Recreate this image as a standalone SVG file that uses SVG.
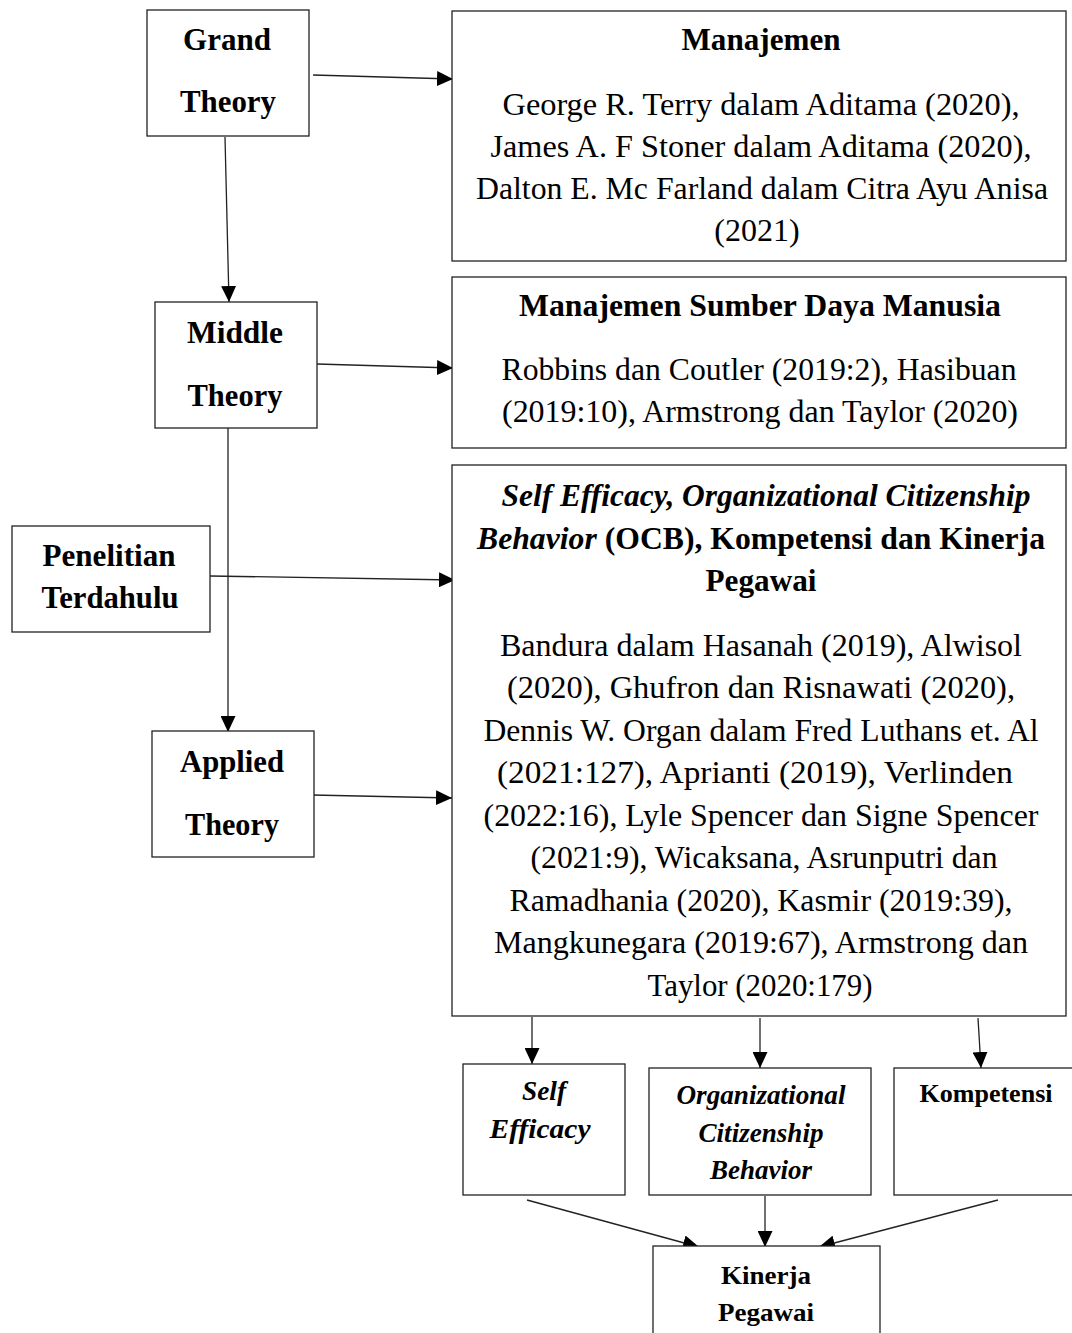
<svg xmlns="http://www.w3.org/2000/svg" width="1072" height="1333" viewBox="0 0 1072 1333">
<style>
.box{fill:#fff;stroke:#222;stroke-width:1.3}
.t{font-family:"Liberation Serif","Times New Roman",serif;fill:#000;text-anchor:middle}
.b{font-weight:bold}
.i{font-style:italic}
.big{font-size:32px}
.sm{font-size:27px}
.con{stroke:#222;stroke-width:1.3;fill:none;marker-end:url(#ah)}
</style>
<defs>
<marker id="ah" markerUnits="userSpaceOnUse" markerWidth="17" markerHeight="15" refX="16" refY="7.5" orient="auto">
<path d="M0,0 L16,7.5 L0,15 z" fill="#000"/>
</marker>
</defs>
<rect width="1072" height="1333" fill="#fff"/>
<g id="connectors">
<line class="con" x1="313" y1="75" x2="453" y2="79"/>
<line class="con" x1="225" y1="137" x2="229" y2="302"/>
<line class="con" x1="317" y1="364" x2="453" y2="368"/>
<line class="con" x1="228" y1="428" x2="228" y2="732"/>
<line class="con" x1="210" y1="576" x2="455" y2="580"/>
<line class="con" x1="312" y1="795" x2="452" y2="798"/>
<line class="con" x1="532" y1="1017" x2="532" y2="1064"/>
<line class="con" x1="760" y1="1018" x2="760" y2="1068"/>
<line class="con" x1="978" y1="1018" x2="981" y2="1068"/>
<line class="con" x1="527" y1="1200" x2="699" y2="1247"/>
<line class="con" x1="765" y1="1196" x2="765" y2="1247"/>
<line class="con" x1="998" y1="1200" x2="819" y2="1247"/>
</g>
<g id="grand">
<rect class="box" x="147" y="10" width="162" height="126"/>
<text class="t b big" x="227" y="50" textLength="88" lengthAdjust="spacingAndGlyphs">Grand</text>
<text class="t b big" x="228" y="112" textLength="96" lengthAdjust="spacingAndGlyphs">Theory</text>
</g>
<g id="manajemen">
<rect class="box" x="452" y="11" width="614" height="250"/>
<text class="t b big" x="761" y="50" textLength="159" lengthAdjust="spacingAndGlyphs">Manajemen</text>
<text class="t big" x="761" y="115" textLength="517" lengthAdjust="spacingAndGlyphs">George R. Terry dalam Aditama (2020),</text>
<text class="t big" x="761" y="157" textLength="541" lengthAdjust="spacingAndGlyphs">James A. F Stoner dalam Aditama (2020),</text>
<text class="t big" x="762" y="199" textLength="572" lengthAdjust="spacingAndGlyphs">Dalton E. Mc Farland dalam Citra Ayu Anisa</text>
<text class="t big" x="757" y="241">(2021)</text>
</g>
<g id="middle">
<rect class="box" x="155" y="302" width="162" height="126"/>
<text class="t b big" x="235" y="343" textLength="96" lengthAdjust="spacingAndGlyphs">Middle</text>
<text class="t b big" x="235" y="406" textLength="95" lengthAdjust="spacingAndGlyphs">Theory</text>
</g>
<g id="msdm">
<rect class="box" x="452" y="277" width="614" height="171"/>
<text class="t b big" x="760" y="316" textLength="482" lengthAdjust="spacingAndGlyphs">Manajemen Sumber Daya Manusia</text>
<text class="t big" x="759" y="380" textLength="515" lengthAdjust="spacingAndGlyphs">Robbins dan Coutler (2019:2), Hasibuan</text>
<text class="t big" x="760" y="422" textLength="516" lengthAdjust="spacingAndGlyphs">(2019:10), Armstrong dan Taylor (2020)</text>
</g>
<g id="penelitian">
<rect class="box" x="12" y="526" width="198" height="106"/>
<text class="t b big" x="109" y="566" textLength="133" lengthAdjust="spacingAndGlyphs">Penelitian</text>
<text class="t b big" x="110" y="608" textLength="137" lengthAdjust="spacingAndGlyphs">Terdahulu</text>
</g>
<g id="applied">
<rect class="box" x="152" y="731" width="162" height="126"/>
<text class="t b big" x="232" y="772" textLength="104" lengthAdjust="spacingAndGlyphs">Applied</text>
<text class="t b big" x="232" y="835" textLength="94" lengthAdjust="spacingAndGlyphs">Theory</text>
</g>
<g id="variabel">
<rect class="box" x="452" y="465" width="614" height="551"/>
<text class="t b i big" x="766" y="506" textLength="529" lengthAdjust="spacingAndGlyphs">Self Efficacy, Organizational Citizenship</text>
<text class="t b big" x="761" y="549" textLength="568" lengthAdjust="spacingAndGlyphs"><tspan class="i">Behavior</tspan> (OCB), Kompetensi dan Kinerja</text>
<text class="t b big" x="761" y="591" textLength="111" lengthAdjust="spacingAndGlyphs">Pegawai</text>
<text class="t big" x="761" y="656" textLength="522" lengthAdjust="spacingAndGlyphs">Bandura dalam Hasanah (2019), Alwisol</text>
<text class="t big" x="761" y="698" textLength="508" lengthAdjust="spacingAndGlyphs">(2020), Ghufron dan Risnawati (2020),</text>
<text class="t big" x="761" y="741" textLength="555" lengthAdjust="spacingAndGlyphs">Dennis W. Organ dalam Fred Luthans et. Al</text>
<text class="t big" x="755" y="783" textLength="516" lengthAdjust="spacingAndGlyphs">(2021:127), Aprianti (2019), Verlinden</text>
<text class="t big" x="761" y="826" textLength="555" lengthAdjust="spacingAndGlyphs">(2022:16), Lyle Spencer dan Signe Spencer</text>
<text class="t big" x="764" y="868" textLength="467" lengthAdjust="spacingAndGlyphs">(2021:9), Wicaksana, Asrunputri dan</text>
<text class="t big" x="761" y="911" textLength="503" lengthAdjust="spacingAndGlyphs">Ramadhania (2020), Kasmir (2019:39),</text>
<text class="t big" x="761" y="953" textLength="534" lengthAdjust="spacingAndGlyphs">Mangkunegara (2019:67), Armstrong dan</text>
<text class="t big" x="760" y="996" textLength="225" lengthAdjust="spacingAndGlyphs">Taylor (2020:179)</text>
</g>
<g id="selfefficacy">
<rect class="box" x="463" y="1064" width="162" height="131"/>
<text class="t b i sm" x="544" y="1100" textLength="44" lengthAdjust="spacingAndGlyphs">Self</text>
<text class="t b i sm" x="540" y="1138" textLength="101" lengthAdjust="spacingAndGlyphs">Efficacy</text>
</g>
<g id="ocb">
<rect class="box" x="649" y="1068" width="222" height="127"/>
<text class="t b i sm" x="761" y="1104" textLength="169" lengthAdjust="spacingAndGlyphs">Organizational</text>
<text class="t b i sm" x="761" y="1142" textLength="125" lengthAdjust="spacingAndGlyphs">Citizenship</text>
<text class="t b i sm" x="761" y="1179" textLength="102" lengthAdjust="spacingAndGlyphs">Behavior</text>
</g>
<g id="kompetensi">
<rect class="box" x="894" y="1068" width="185" height="127"/>
<text class="t b" style="font-size:25px" x="986" y="1102" textLength="133" lengthAdjust="spacingAndGlyphs">Kompetensi</text>
</g>
<g id="kinerja">
<rect class="box" x="653" y="1246" width="227" height="100"/>
<text class="t b" style="font-size:26px" x="766" y="1284" textLength="90" lengthAdjust="spacingAndGlyphs">Kinerja</text>
<text class="t b" style="font-size:26px" x="766" y="1321" textLength="96" lengthAdjust="spacingAndGlyphs">Pegawai</text>
</g>
</svg>
